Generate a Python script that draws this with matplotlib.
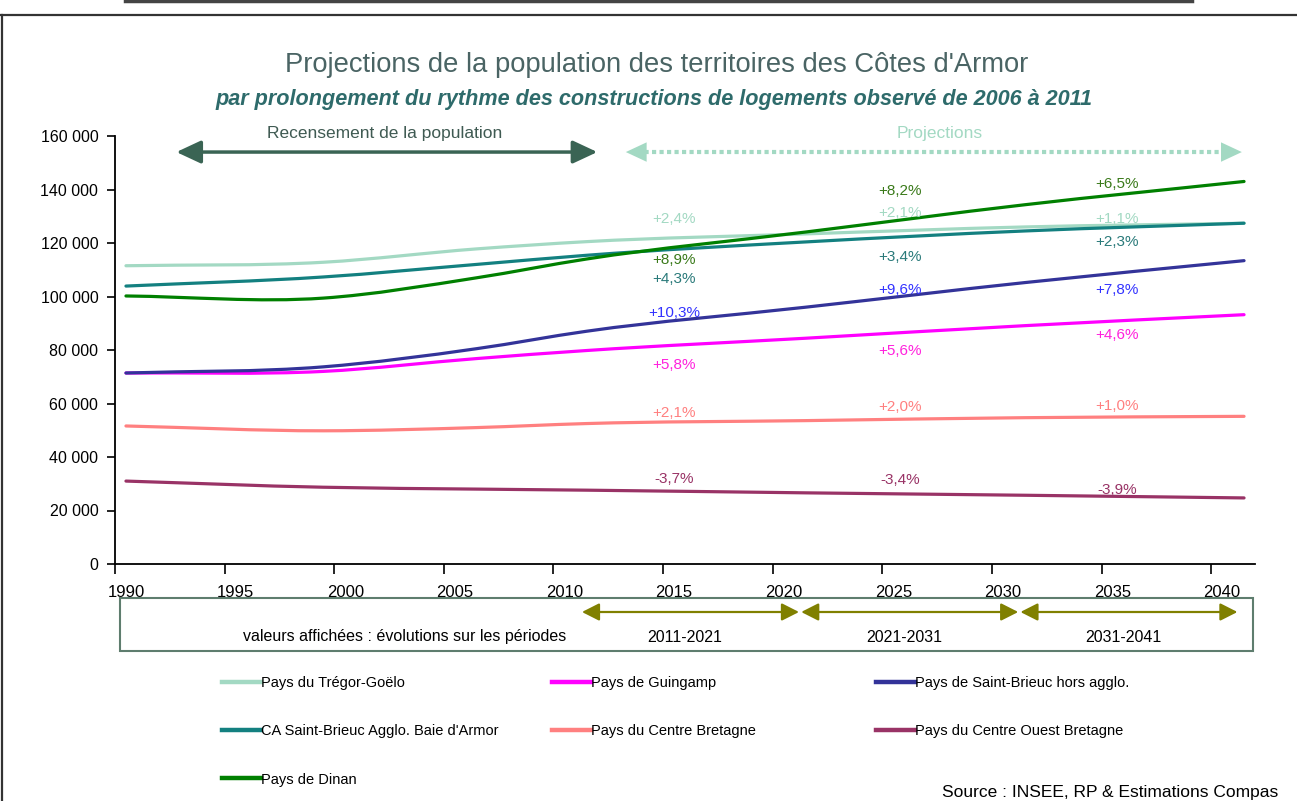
import matplotlib.pyplot as plt
from matplotlib.path import Path
from matplotlib.patches import PathPatch, Rectangle
from matplotlib.lines import Line2D
import numpy as np

plt.rcParams['font.family'] = ['Liberation Sans', 'DejaVu Sans']

# census years then projections
years = [1990, 1999, 2006, 2011, 2021, 2031, 2041]

tregor = [111500, 112800, 117800, 120500, 123400, 126000, 127400]
guingamp = [71400, 72000, 76800, 79800, 84400, 89100, 93200]
stbrieuc_hors = [71400, 73700, 80500, 87000, 96000, 105200, 113400]
ca_stbrieuc = [103900, 107300, 112000, 115400, 120400, 124500, 127400]
centre_bretagne = [51600, 49800, 51000, 52500, 53600, 54700, 55200]
centre_ouest = [31000, 28700, 28000, 27600, 26600, 25700, 24700]
dinan = [100200, 99400, 107000, 114000, 124100, 134300, 143000]

names = ["Pays du Trégor-Goëlo", "Pays de Guingamp", "Pays de Saint-Brieuc hors agglo.",
         "CA Saint-Brieuc Agglo. Baie d'Armor", "Pays du Centre Bretagne",
         "Pays du Centre Ouest Bretagne", "Pays de Dinan"]
series = [tregor, guingamp, stbrieuc_hors, ca_stbrieuc, centre_bretagne, centre_ouest, dinan]
colors = ['#a3d9c3', '#ff00ff', '#333399', '#138080', '#ff8080', '#993366', '#008000']
label_colors = ['#a3d9c3', '#ff22dd', '#3333ff', '#2a7a7a', '#ff8080', '#993366', '#3a7a1a']

# evolutions per period 2011-2021, 2021-2031, 2031-2041
evol = [["+2,4%", "+2,1%", "+1,1%"],
        ["+5,8%", "+5,6%", "+4,6%"],
        ["+10,3%", "+9,6%", "+7,8%"],
        ["+4,3%", "+3,4%", "+2,3%"],
        ["+2,1%", "+2,0%", "+1,0%"],
        ["-3,7%", "-3,4%", "-3,9%"],
        ["+8,9%", "+8,2%", "+6,5%"]]
# label placement (layout only)
evol_x = [2015.0, 2025.3, 2035.2]
evol_y = [[129000, 131200, 129000],
          [74400, 79600, 85600],
          [93800, 102400, 102400],
          [106500, 114800, 120400],
          [56400, 58700, 59100],
          [31800, 31400, 27700],
          [113600, 139400, 142000]]

periods = ["2011-2021", "2021-2031", "2031-2041"]
period_bounds = [2011, 2021, 2031, 2041]


def smooth_path(x, y):
    x = np.asarray(x, float)
    y = np.asarray(y, float)
    m = np.gradient(y, x)
    verts = [(x[0], y[0])]
    for i in range(len(x) - 1):
        h = x[i + 1] - x[i]
        verts += [(x[i] + h / 3, y[i] + m[i] * h / 3),
                  (x[i + 1] - h / 3, y[i + 1] - m[i + 1] * h / 3),
                  (x[i + 1], y[i + 1])]
    codes = [Path.MOVETO] + [Path.CURVE4] * (3 * (len(x) - 1))
    return Path(verts, codes)


fig = plt.figure(figsize=(12.97, 8.01), dpi=100)
ax = fig.add_axes([115 / 1297, 1 - 564 / 801, 1140 / 1297, 428 / 801])

for ys, c in zip(series, colors):
    ax.add_patch(PathPatch(smooth_path(years, ys), fill=False, edgecolor=c, lw=2.3,
                           capstyle='round', joinstyle='round'))

for i in range(len(series)):
    for j in range(3):
        ax.text(evol_x[j], evol_y[i][j], evol[i][j], color=label_colors[i], fontsize=11,
                ha='center', va='center')

ax.set_xlim(1989.5, 2041.5)
ax.set_ylim(0, 160000)
ax.set_yticks(np.arange(0, 160001, 20000))
ax.set_yticklabels([f'{v:,.0f}'.replace(',', ' ') for v in np.arange(0, 160001, 20000)])
ax.set_xticks(np.arange(1989.5, 2040, 5))
ax.set_xticklabels([])
ax.set_xticks(np.arange(1990, 2041, 5), minor=True)
ax.set_xticklabels([str(v) for v in np.arange(1990, 2041, 5)], minor=True)
ax.tick_params(axis='x', which='major', length=7, width=1.2, direction='out')
ax.tick_params(axis='x', which='minor', length=0, pad=15, labelsize=12)
ax.tick_params(axis='y', length=6, width=1.2, pad=6, labelsize=11.5)
for s in ['top', 'right']:
    ax.spines[s].set_visible(False)
for s in ['left', 'bottom']:
    ax.spines[s].set_linewidth(1.3)

# top arrows
ax.annotate('', xy=(2011.5, 154000), xytext=(1992.3, 154000),
            arrowprops=dict(arrowstyle='<|-|>,head_length=0.75,head_width=0.35',
                            color='#3a6454', lw=2.5, mutation_scale=20, shrinkA=0, shrinkB=0),
            annotation_clip=False)
ax.text(2001.8, 160800, 'Recensement de la population', color='#3f5a52', fontsize=12.5,
        ha='center', va='center')
ax.plot([2013.3, 2040.4], [154000, 154000], color='#a3d9c3', lw=3, ls=(0, (1, 0.8)),
        clip_on=False)
ax.annotate('', xy=(2040.9, 154000), xytext=(2012.8, 154000),
            arrowprops=dict(arrowstyle='<|-|>,head_length=0.75,head_width=0.35',
                            color='#a3d9c3', lw=0, mutation_scale=20, shrinkA=0, shrinkB=0),
            annotation_clip=False)
ax.text(2027.1, 160800, 'Projections', color='#a3d9c3', fontsize=12.5,
        ha='center', va='center')

# period box under the axis
fig.add_artist(Rectangle((120 / 1297, 1 - 651 / 801), 1133 / 1297, 53 / 801,
                         transform=fig.transFigure, fill=False, edgecolor='#5e7d6e', lw=1.5))
for k in range(3):
    ax.annotate('', xy=(period_bounds[k + 1] - 0.3, 1 - 612 / 801),
                xytext=(period_bounds[k] - 0.2, 1 - 612 / 801),
                xycoords=('data', 'figure fraction'), textcoords=('data', 'figure fraction'),
                arrowprops=dict(arrowstyle='<|-|>,head_length=0.75,head_width=0.38',
                                color='#808000', lw=1.6, mutation_scale=14, shrinkA=0, shrinkB=0),
                annotation_clip=False)
    ax.annotate(periods[k], xy=((period_bounds[k] + period_bounds[k + 1]) / 2 - 0.5, 1 - 637 / 801),
                xycoords=('data', 'figure fraction'), ha='center', va='center', fontsize=11.5,
                annotation_clip=False)
fig.text(405 / 1297, 1 - 637 / 801, 'valeurs affichées : évolutions sur les périodes',
         ha='center', va='center', fontsize=11.5)

# titles
fig.text(0.506, 1 - 65 / 801, "Projections de la population des territoires des Côtes d'Armor",
         ha='center', va='center', fontsize=19.7, color='#4a6464')
fig.text(0.504, 1 - 100 / 801,
         "par prolongement du rythme des constructions de logements observé de 2006 à 2011",
         ha='center', va='center', fontsize=15.6, color='#2e6b6b', style='italic', weight='bold')

# legend, one column at a time
handles = [Line2D([], [], color=c, lw=3.2) for c in colors]
cols = [[0, 3, 6], [1, 4], [2, 5]]
col_x = [222, 552, 876]
for idx, cx in zip(cols, col_x):
    leg = fig.legend([handles[i] for i in idx], [names[i] for i in idx], loc='upper left',
                     bbox_to_anchor=(cx / 1297, 1 - 676 / 801), frameon=False, fontsize=10.5,
                     handlelength=2.7, handletextpad=0.0, borderpad=0, borderaxespad=0,
                     labelspacing=2.35)

fig.text(1278 / 1297, 1 - 793 / 801, 'Source : INSEE, RP & Estimations Compas',
         ha='right', va='center', fontsize=12.5)

# frame
fig.add_artist(Line2D([0, 1], [1 - 15 / 801] * 2, transform=fig.transFigure, color='#333333', lw=1.6))
fig.add_artist(Line2D([1.5 / 1297] * 2, [0, 1 - 15 / 801], transform=fig.transFigure,
                      color='#333333', lw=1.6))
fig.add_artist(Line2D([125 / 1297, 1192 / 1297], [1 - 1 / 801] * 2, transform=fig.transFigure,
                      color='#444444', lw=2.5))

fig.savefig('out.png', dpi=100)
